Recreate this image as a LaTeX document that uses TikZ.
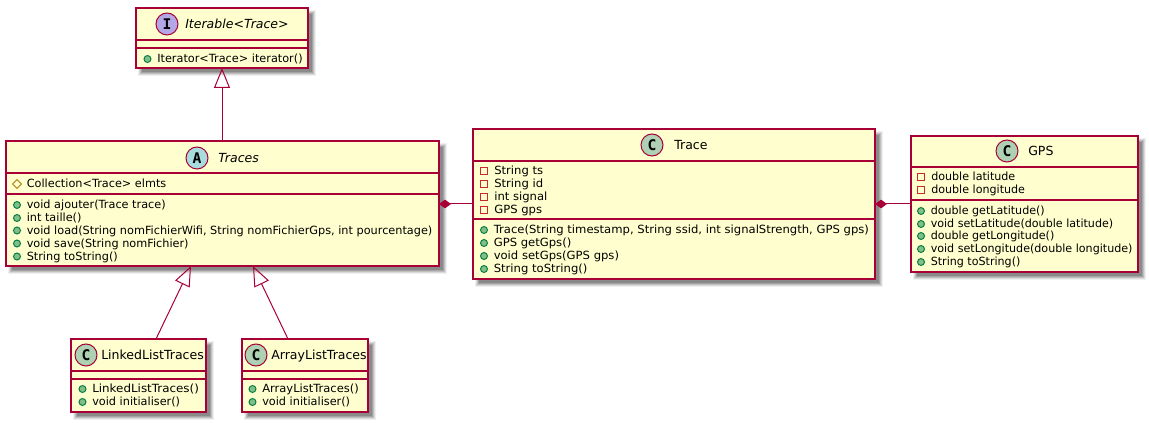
\documentclass[tikz,border=0pt]{standalone}
\usepackage{fontspec}
\usepackage{graphicx}
\setmainfont{DejaVu Sans}
\newfontfamily\letterfont{DejaVu Sans Mono}
\usetikzlibrary{arrows.meta,shapes.geometric}
\definecolor{umlfill}{HTML}{FEFECE}
\definecolor{umlline}{HTML}{A80036}
\definecolor{ccirc}{HTML}{ADD1B2}
\definecolor{acirc}{HTML}{A9DCDF}
\definecolor{icirc}{HTML}{B4A7E5}
\definecolor{pubfill}{HTML}{84BE84}
\definecolor{publine}{HTML}{038048}
\definecolor{privline}{HTML}{C82930}
\definecolor{protline}{HTML}{B38D22}
\newcount\memcnt
\def\memsx{1}
\newcommand{\umlbox}[7]{%
  \foreach \e/\o in {3/0.06,2/0.09,1/0.12,0/0.14,-1/0.16}{%
    \fill[black,opacity=\o] (#2+5-\e,#3+5-\e) rectangle (#4+5+\e,#5+5+\e);}%
  \node[umlclass,anchor=north west,minimum width={(#4-#2)*0.75pt},minimum height={(#5-#3)*0.75pt}] (#1) at (#2,#3) {};
  \draw[umlsep] (#2,#6) -- (#4,#6);
  \draw[umlsep] (#2,#7) -- (#4,#7);
}
\newcommand{\headtext}[5]{%
  \global\advance\memcnt by 1
  \node[headcircle,fill=#1] (h\the\memcnt) at (#2,#3) {\letterfont\fontsize{11pt}{11pt}\selectfont\bfseries #4};
  #5
}
\newcommand{\pub}[3]{%
  \global\advance\memcnt by 1
  \node[pubicon] (i\the\memcnt) at (#1,#2-4) {};
  \node[memtext] (m\the\memcnt) at (#1+9.5,#2) {\scalebox{\memsx}[1]{#3}};
}
\newcommand{\priv}[3]{%
  \global\advance\memcnt by 1
  \node[privicon] (i\the\memcnt) at (#1,#2-4) {};
  \node[memtext] (m\the\memcnt) at (#1+10,#2) {\scalebox{\memsx}[1]{#3}};
}
\newcommand{\prot}[3]{%
  \global\advance\memcnt by 1
  \node[proticon] (i\the\memcnt) at (#1,#2-4) {};
  \node[memtext] (m\the\memcnt) at (#1+9.5,#2) {\scalebox{\memsx}[1]{#3}};
}
\tikzset{
  x=0.75pt,y=-0.75pt,
  umlclass/.style={draw=umlline,fill=umlfill,line width=0.95pt,inner sep=0pt,outer sep=0pt},
  umlsep/.style={draw=umlline,line width=0.95pt},
  headcircle/.style={circle,draw=umlline,line width=0.75pt,minimum size=16.5pt,inner sep=0pt},
  memtext/.style={anchor=base west,inner sep=0pt,font=\fontsize{8.46pt}{10pt}\selectfont},
  titletext/.style={anchor=base west,inner sep=0pt,font=\fontsize{9.4pt}{12pt}\selectfont},
  pubicon/.style={circle,draw=publine,fill=pubfill,line width=0.75pt,minimum size=5.2pt,inner sep=0pt},
  privicon/.style={rectangle,draw=privline,line width=0.75pt,minimum size=4.8pt,inner sep=0pt},
  proticon/.style={diamond,draw=protline,line width=0.75pt,minimum size=6.8pt,inner sep=0pt},
  extends/.style={draw=umlline,line width=0.75pt,-{Triangle[open,length=15pt,width=12pt,line width=0.75pt]}},
  composes/.style={draw=umlline,line width=0.75pt,{Diamond[length=9pt,width=6.5pt,fill=umlline]}-},
}
\begin{document}
\begin{tikzpicture}
\useasboundingbox (0,0) rectangle (1149,423);
% boxes
\umlbox{iterable}{136}{8}{308}{68}{40}{48}
\umlbox{traces}{6}{141}{439}{266}{173}{194}
\umlbox{trace}{473}{129}{875}{279}{161}{219}
\umlbox{gps}{911}{136}{1138}{272}{167}{200}
\umlbox{linked}{71}{339}{206}{412}{371}{379}
\umlbox{array}{242}{339}{368}{412}{371}{379}
% headers
\headtext{icirc}{167}{24}{I}{\node[titletext] (titleIterable) at (185,28.5) {\itshape Iterable<Trace>};}
\headtext{acirc}{197}{158}{A}{\node[titletext] (titleTraces) at (218,162.5) {\itshape Traces};}
\headtext{ccirc}{652}{145}{C}{\node[titletext] (titleTrace) at (674,149.5) {Trace};}
\headtext{ccirc}{1007}{151}{C}{\node[titletext] (titleGps) at (1028,155.5) {GPS};}
\headtext{ccirc}{86}{355}{C}{\node[titletext] (titleLinked) at (101,359.5) {LinkedListTraces};}
\headtext{ccirc}{256}{355}{C}{\node[titletext] (titleArray) at (271,359.5) {ArrayListTraces};}
% members
\pub{147.5}{63}{Iterator<Trace> iterator()}
\prot{17}{188}{Collection<Trace> elmts}
\pub{17}{209}{void ajouter(Trace trace)}
\pub{17}{222}{int taille()}
\pub{17}{234.5}{void load(String nomFichierWifi, String nomFichierGps, int pourcentage)}
\pub{17}{247.5}{void save(String nomFichier)}
\pub{17}{260.5}{String toString()}
\def\memsx{1.029}
\priv{484}{175}{String ts}
\priv{484}{188}{String id}
\priv{484}{201}{int signal}
\priv{484}{214}{GPS gps}
\pub{484}{234}{Trace(String timestamp, String ssid, int signalStrength, GPS gps)}
\pub{484}{247}{GPS getGps()}
\pub{484}{260}{void setGps(GPS gps)}
\pub{484}{273}{String toString()}
\def\memsx{0.985}
\priv{921}{181}{double latitude}
\priv{921}{194}{double longitude}
\pub{921}{215}{double getLatitude()}
\pub{921}{228}{void setLatitude(double latitude)}
\pub{921}{240}{double getLongitude()}
\pub{921}{253}{void setLongitude(double longitude)}
\pub{921}{266}{String toString()}
\def\memsx{1.055}
\pub{82.5}{393}{LinkedListTraces()}
\def\memsx{1}
\pub{82.5}{406}{void initialiser()}
\def\memsx{1.02}
\pub{252.5}{393}{ArrayListTraces()}
\def\memsx{1}
\pub{252.5}{406}{void initialiser()}
% connector ends
\coordinate (tracesTop) at (222,141);
\coordinate (iterableBottom) at (222,68);
\coordinate (tracesLowA) at (191,266);
\coordinate (tracesLowB) at (253,266);
\coordinate (linkedTop) at (156,339);
\coordinate (arrayTop) at (288,339);
\coordinate (tracesRight) at (439,204);
\coordinate (traceLeft) at (473,204);
\coordinate (traceRight) at (875,204);
\coordinate (gpsLeft) at (911,204);
% connectors
\draw[extends] (tracesTop) -- (iterableBottom);
\draw[extends] (linkedTop) -- (tracesLowA);
\draw[extends] (arrayTop) -- (tracesLowB);
\draw[composes] (tracesRight) -- (traceLeft);
\draw[composes] (traceRight) -- (gpsLeft);
\end{tikzpicture}
\end{document}
